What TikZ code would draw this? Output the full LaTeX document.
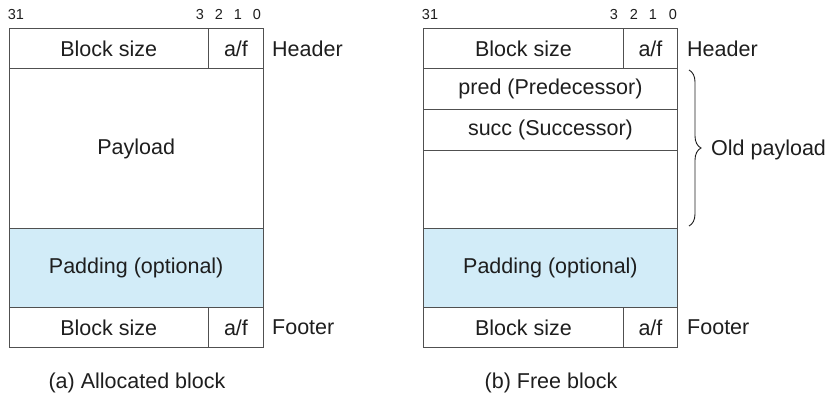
\documentclass[tikz,border=0pt]{standalone}
\usepackage{fontspec}
\setmainfont{Liberation Sans}
\usetikzlibrary{calc, decorations.pathreplacing}

\begin{document}
\begin{tikzpicture}[x=1pt, y=-1pt]
  % Fix the page to the size of the original figure
  \useasboundingbox (0,0) rectangle (827,396);

  % ==========================================
  % 1. COLORS & STYLES
  % ==========================================
  \definecolor{padBlue}{RGB}{210, 236, 248} % Padding fill
  \definecolor{lineGray}{RGB}{80, 80, 80}    % Cell borders
  \definecolor{inkGray}{RGB}{30, 30, 30}     % Text

  \tikzset{
    cell/.style={
      draw=lineGray, line width=0.9pt, anchor=north west, inner sep=0pt,
      text=inkGray, font=\fontsize{21.5}{25}\selectfont
    },
    padcell/.style={cell, fill=padBlue},
    sidetext/.style={anchor=west, inner sep=0pt, text=inkGray,
      font=\fontsize{21.5}{25}\selectfont},
    bittext/.style={anchor=base, inner sep=0pt, text=inkGray,
      font=\fontsize{14.5}{16}\selectfont}
  }

  % ==========================================
  % 2. ALLOCATED BLOCK (a)
  % ==========================================
  \node[cell, minimum width=199.5, minimum height=40] (hSizeA) at (8.5,28.5) {Block size};
  \node[cell, minimum width=55, minimum height=40]    (hFlagA) at (208,28.5) {a/f};
  \node[cell, minimum width=254.5, minimum height=159.5] (payA) at (8.5,68.5) {Payload};
  \node[padcell, minimum width=254.5, minimum height=79]  (padA) at (8.5,228) {Padding (optional)};
  \node[cell, minimum width=199.5, minimum height=40] (fSizeA) at (8.5,307) {Block size};
  \node[cell, minimum width=55, minimum height=40]    (fFlagA) at (208,307) {a/f};

  \node[sidetext] (headA) at (272,49) {Header};
  \node[sidetext] (footA) at (272,327) {Footer};

  % Bit positions above the header
  \node[bittext] (bitA31) at (16,20) {31};
  \foreach \b/\x in {3/200, 2/219, 1/238, 0/257}
    \node[bittext] (bitA\b) at (\x,20) {\b};

  \node[sidetext, anchor=center] (capA) at (137,383) {(a) Allocated block};

  % ==========================================
  % 3. FREE BLOCK (b)
  % ==========================================
  \node[cell, minimum width=200, minimum height=40] (hSizeB) at (423,28.5) {Block size};
  \node[cell, minimum width=54, minimum height=40]  (hFlagB) at (623,28.5) {a/f};
  \node[cell, minimum width=254, minimum height=40.5] (predB) at (423,68.5) {pred (Predecessor)};
  \node[cell, minimum width=254, minimum height=41]   (succB) at (423,109) {succ (Successor)};
  \node[cell, minimum width=254, minimum height=78]   (restB) at (423,150) {};
  \node[padcell, minimum width=254, minimum height=79] (padB) at (423,228) {Padding (optional)};
  \node[cell, minimum width=200, minimum height=40] (fSizeB) at (423,307) {Block size};
  \node[cell, minimum width=54, minimum height=40]  (fFlagB) at (623,307) {a/f};

  \node[sidetext] (headB) at (687,49) {Header};
  \node[sidetext] (footB) at (687,327) {Footer};

  \node[bittext] (bitB31) at (430,20) {31};
  \foreach \b/\x in {3/614, 2/634, 1/653, 0/673}
    \node[bittext] (bitB\b) at (\x,20) {\b};

  % Brace over the old payload area
  \coordinate (braceTop) at (689,70);
  \coordinate (braceBot) at (689,226);
  \draw[inkGray, line width=0.9pt, decorate, decoration={brace, amplitude=12pt}]
    (braceTop) -- (braceBot);
  \node[sidetext] (oldPay) at (711,150) {Old payload};

  \node[sidetext, anchor=center] (capB) at (551,383) {(b) Free block};

\end{tikzpicture}
\end{document}
